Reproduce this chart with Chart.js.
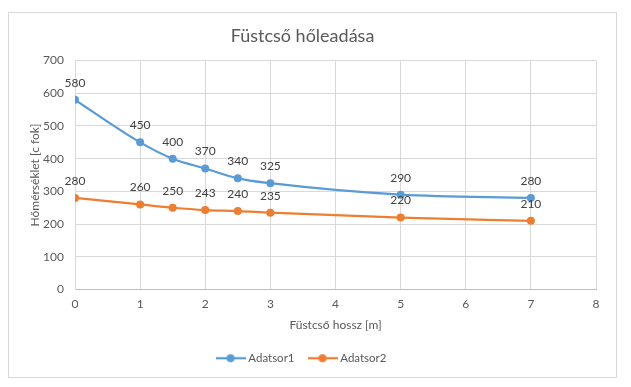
<!DOCTYPE html>
<html>
<head>
<meta charset="utf-8">
<script src="https://cdn.jsdelivr.net/npm/chart.js@4/dist/chart.umd.min.js"></script>
<style>
  html, body { margin: 0; padding: 0; background: #fff; width: 631px; height: 387px; overflow: hidden; }
  #frame { position: absolute; left: 8px; top: 12px; width: 609px; height: 366px; border: 1px solid #d9d9d9; box-sizing: border-box; background: #fff; }
  #c { position: absolute; left: 0; top: 0; }
</style>
</head>
<body>
<div id="frame"><canvas id="c" width="607" height="364"></canvas></div>
<script>
const xValues = [0, 1, 1.5, 2, 2.5, 3, 5, 7];
const series1 = [580, 450, 400, 370, 340, 325, 290, 280];
const series2 = [280, 260, 250, 243, 240, 235, 220, 210];
const seriesNames = ['Adatsor1', 'Adatsor2'];
const xTicks = [0, 1, 2, 3, 4, 5, 6, 7, 8];
const yTicks = [0, 100, 200, 300, 400, 500, 600, 700];

const FONT = 'Lato, "Liberation Sans", sans-serif';
const BLUE = '#5B9BD5';
const ORANGE = '#ED7D31';

function legendIcon(color) {
  const cv = document.createElement('canvas');
  cv.width = 30; cv.height = 10;
  const g = cv.getContext('2d');
  g.strokeStyle = color; g.lineWidth = 2.25;
  g.beginPath(); g.moveTo(0, 5); g.lineTo(30, 5); g.stroke();
  g.fillStyle = color;
  g.beginPath(); g.arc(15, 5, 4, 0, Math.PI * 2); g.fill();
  return cv;
}

const dataLabels = {
  id: 'dataLabels',
  afterDatasetsDraw(chart) {
    const ctx = chart.ctx;
    ctx.save();
    ctx.font = '12px ' + FONT;
    ctx.fillStyle = '#404040';
    ctx.textAlign = 'center';
    ctx.textBaseline = 'middle';
    chart.data.datasets.forEach((ds, i) => {
      const meta = chart.getDatasetMeta(i);
      meta.data.forEach((pt, j) => {
        ctx.fillText(String(ds.data[j].y), pt.x, pt.y - 17);
      });
    });
    ctx.restore();
  }
};

const toPoints = arr => arr.map((v, i) => ({ x: xValues[i], y: v }));

new Chart(document.getElementById('c'), {
  type: 'line',
  data: {
    datasets: [
      { label: seriesNames[0], data: toPoints(series1), borderColor: BLUE, backgroundColor: BLUE,
        borderWidth: 2.25, pointRadius: 4, pointBackgroundColor: BLUE, pointBorderWidth: 0,
        pointStyle: 'circle', cubicInterpolationMode: 'monotone' },
      { label: seriesNames[1], data: toPoints(series2), borderColor: ORANGE, backgroundColor: ORANGE,
        borderWidth: 2.25, pointRadius: 4, pointBackgroundColor: ORANGE, pointBorderWidth: 0,
        pointStyle: 'circle', cubicInterpolationMode: 'monotone' }
    ]
  },
  options: {
    responsive: false,
    animation: false,
    layout: { padding: { left: 0, right: 20, top: 0, bottom: 3 } },
    plugins: {
      title: {
        display: true, text: 'Füstcső hőleadása', color: '#595959',
        font: { family: FONT, size: 18, weight: 'normal' },
        padding: { top: 12, bottom: 14 }
      },
      legend: {
        position: 'bottom',
        labels: {
          usePointStyle: true, pointStyleWidth: 24, boxHeight: 10,
          color: '#595959', font: { family: FONT, size: 11.5 }, padding: 16,
          generateLabels(chart) {
            return chart.data.datasets.map((ds, i) => ({
              text: ds.label, fillStyle: ds.borderColor, strokeStyle: ds.borderColor,
              lineWidth: 0, pointStyle: legendIcon(ds.borderColor), datasetIndex: i, hidden: false,
              fontColor: '#595959'
            }));
          }
        }
      },
      tooltip: { enabled: false }
    },
    scales: {
      x: {
        type: 'linear', min: 0, max: 8,
        afterBuildTicks(s) { s.ticks = xTicks.map(v => ({ value: v })); },
        afterFit(s) { s.height = 47; },
        grid: { color: '#d9d9d9', drawTicks: false, lineWidth: 1 },
        border: { color: '#bfbfbf' },
        ticks: { color: '#595959', font: { family: FONT, size: 12 }, padding: 7 },
        title: { display: true, text: 'Füstcső hossz [m]', color: '#595959',
          font: { family: FONT, size: 12 }, padding: { top: 0, bottom: 4 } }
      },
      y: {
        min: 0, max: 700,
        afterBuildTicks(s) { s.ticks = yTicks.map(v => ({ value: v })); },
        afterFit(s) { s.width = 66; },
        grid: { color: '#d9d9d9', drawTicks: false, lineWidth: 1 },
        border: { color: '#d9d9d9' },
        ticks: { color: '#595959', font: { family: FONT, size: 12 }, padding: 11 },
        title: { display: true, text: 'Hőmérséklet [c fok]', color: '#595959',
          font: { family: FONT, size: 12 }, padding: { top: 19, bottom: 0 } }
      }
    }
  },
  plugins: [dataLabels]
});
</script>
</body>
</html>
